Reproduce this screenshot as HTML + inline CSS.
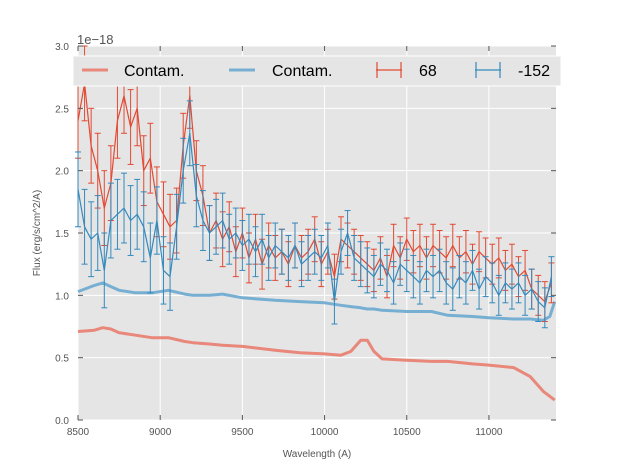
<!DOCTYPE html>
<html><head><meta charset="utf-8"><style>
body{margin:0;background:#fff;}
svg{display:block;font-family:"Liberation Sans",sans-serif;}
</style></head><body>
<svg id="chart" width="617" height="467" viewBox="0 0 617 467" xmlns="http://www.w3.org/2000/svg">
<rect x="78" y="46" width="478" height="374" fill="#e5e5e5"/>
<g id="grid"></g>
<g id="series"></g>
<g id="axes"></g>
<text x="77" y="44" font-size="13" fill="#555">1e−18</text>
<text x="317" y="457" font-size="10" fill="#555" text-anchor="middle">Wavelength (A)</text>
<text transform="translate(40,233) rotate(-90)" font-size="10" fill="#555" text-anchor="middle">Flux (erg/s/cm^2/A)</text>
<g>
<rect x="73" y="56" width="488" height="30" fill="#e5e5e5" stroke="#fff" stroke-width="1"/>
<line x1="82" y1="70" x2="108" y2="70" stroke="#e8877a" stroke-width="3"/>
<text x="124" y="76" font-size="16" fill="#000">Contam.</text>
<line x1="229" y1="70" x2="255" y2="70" stroke="#77afd3" stroke-width="3"/>
<text x="272" y="76" font-size="16" fill="#000">Contam.</text>
<g stroke="#e24a33" stroke-width="1.2"><line x1="376" y1="70" x2="402" y2="70"/><line x1="377" y1="62" x2="377" y2="78"/><line x1="401" y1="62" x2="401" y2="78"/></g>
<text x="419" y="76" font-size="16" fill="#000">68</text>
<g stroke="#348abd" stroke-width="1.2"><line x1="475" y1="70" x2="501" y2="70"/><line x1="476" y1="62" x2="476" y2="78"/><line x1="500" y1="62" x2="500" y2="78"/></g>
<text x="518" y="76" font-size="16" fill="#000">-152</text>
</g>
</svg>
<script>
const xTicks=[8500,9000,9500,10000,10500,11000];
const yTicks=[0.0,0.5,1.0,1.5,2.0,2.5,3.0];
const contamWl=[8500,8600,8650,8700,8750,8850,8950,9050,9150,9200,9300,9380,9500,9700,9850,10000,10100,10160,10220,10260,10300,10350,10500,10650,10750,10900,11000,11150,11250,11330,11370,11400];
const contamRed=[0.71,0.72,0.74,0.73,0.70,0.68,0.66,0.66,0.63,0.62,0.61,0.60,0.59,0.56,0.54,0.53,0.52,0.55,0.64,0.64,0.55,0.49,0.48,0.47,0.47,0.45,0.44,0.42,0.35,0.23,0.19,0.16];
const contamBlue=[1.03,1.08,1.10,1.07,1.04,1.02,1.02,1.04,1.01,1.00,1.00,1.01,0.98,0.96,0.95,0.94,0.92,0.91,0.90,0.89,0.89,0.88,0.87,0.87,0.84,0.83,0.82,0.81,0.81,0.80,0.83,0.95];
const wl=[];for(let w=8500;w<=11380;w+=40)wl.push(w);
const red=[2.4,2.7,2.2,2.0,1.7,1.9,2.4,2.6,2.35,2.5,2.0,2.1,1.75,1.65,1.55,1.6,2.2,2.6,2.0,1.8,1.5,1.6,1.45,1.55,1.35,1.5,1.3,1.45,1.25,1.4,1.3,1.35,1.25,1.4,1.3,1.35,1.45,1.25,1.35,1.15,1.45,1.4,1.35,1.3,1.25,1.2,1.3,1.15,1.4,1.3,1.45,1.35,1.4,1.3,1.4,1.35,1.3,1.4,1.3,1.35,1.25,1.35,1.3,1.25,1.3,1.2,1.25,1.15,1.2,1.05,1.0,0.95,1.1];
const blue=[1.85,1.55,1.45,1.5,1.2,1.6,1.65,1.7,1.6,1.65,1.55,1.3,1.6,1.2,1.15,1.55,2.0,2.3,1.8,1.6,1.5,1.55,1.6,1.45,1.5,1.4,1.45,1.35,1.45,1.3,1.4,1.35,1.3,1.4,1.25,1.3,1.35,1.3,1.4,0.95,1.35,1.5,1.3,1.25,1.2,1.15,1.25,1.2,1.1,1.25,1.2,1.15,1.1,1.2,1.15,1.2,1.1,1.05,1.15,1.1,1.2,1.05,1.15,1.1,1.0,1.1,1.05,1.1,1.0,1.05,0.95,0.9,1.15];
const redErr=[0.3,0.3,0.3,0.3,0.3,0.3,0.3,0.3,0.3,0.3,0.28,0.28,0.28,0.26,0.26,0.26,0.26,0.26,0.24,0.24,0.22,0.22,0.22,0.2,0.2,0.2,0.2,0.2,0.2,0.18,0.18,0.18,0.18,0.18,0.18,0.18,0.18,0.18,0.18,0.18,0.18,0.18,0.18,0.18,0.18,0.17,0.17,0.17,0.17,0.17,0.17,0.17,0.17,0.17,0.17,0.17,0.17,0.17,0.17,0.17,0.16,0.16,0.16,0.16,0.16,0.16,0.16,0.16,0.16,0.16,0.16,0.16,0.16];
const blueErr=[0.3,0.3,0.3,0.3,0.3,0.3,0.28,0.28,0.28,0.28,0.28,0.28,0.27,0.27,0.27,0.26,0.26,0.26,0.25,0.24,0.22,0.22,0.22,0.2,0.2,0.2,0.2,0.2,0.2,0.18,0.18,0.18,0.18,0.18,0.18,0.18,0.18,0.18,0.18,0.18,0.18,0.18,0.18,0.18,0.18,0.17,0.17,0.17,0.17,0.17,0.17,0.17,0.17,0.17,0.17,0.17,0.17,0.17,0.17,0.17,0.16,0.16,0.16,0.16,0.16,0.16,0.16,0.16,0.16,0.16,0.16,0.16,0.16];
const NS="http://www.w3.org/2000/svg";
const X0=78,X1=556,Y0=420,Y1=46;
function xs(w){return X0+(w-8500)/(11408-8500)*(X1-X0);}
function ys(v){return Y0-v/3.0*(Y0-Y1);}
function mk(t,a,p){const e=document.createElementNS(NS,t);for(const k in a)e.setAttribute(k,a[k]);p.appendChild(e);return e;}
const grid=document.getElementById('grid'),axes=document.getElementById('axes'),ser=document.getElementById('series');
xTicks.forEach(t=>{const x=xs(t);
 const g=mk('line',{x1:x,x2:x,y1:Y1,y2:Y0,stroke:'#fff','stroke-width':1},grid);
 
 
 mk('line',{x1:x,x2:x,y1:Y1,y2:Y1+5,stroke:'#555'},axes);
 mk('line',{x1:x,x2:x,y1:Y0,y2:Y0-5,stroke:'#555'},axes);
 const tx=mk('text',{x:x,y:Y0+15,'font-size':10,fill:'#555','text-anchor':'middle'},axes);tx.textContent=t;
 
 });
yTicks.forEach(t=>{const y=ys(t);
 const g=mk('line',{x1:X0,x2:X1,y1:y,y2:y,stroke:'#fff','stroke-width':1},grid);
 
 
 mk('line',{x1:X0,x2:X0+5,y1:y,y2:y,stroke:'#555'},axes);
 mk('line',{x1:X1,x2:X1-5,y1:y,y2:y,stroke:'#555'},axes);
 const tx=mk('text',{x:X0-9,y:y+4,'font-size':10,fill:'#555','text-anchor':'end'},axes);tx.textContent=t.toFixed(1);
 
 });
function line(ws,vs,col,w,name){const n=Math.min(ws.length,vs.length);let d='';for(let i=0;i<n;i++)d+=(i?'L':'M')+xs(ws[i]).toFixed(1)+','+ys(vs[i]).toFixed(1);
 const p=mk('path',{d:d,fill:'none',stroke:col,'stroke-width':w,'stroke-linejoin':'round'},ser);
 
 }
function errs(vs,es,col,name){const g=mk('g',{stroke:col,'stroke-width':1},ser);
 
 
 const n=Math.min(wl.length,vs.length,es.length);
 for(let i=0;i<n;i++){const x=xs(wl[i]),a=ys(vs[i]+es[i]),b=ys(vs[i]-es[i]);
  mk('line',{x1:x,x2:x,y1:Math.max(a,Y1),y2:b},g);
  if(a>=Y1)mk('line',{x1:x-3,x2:x+3,y1:a,y2:a},g);
  mk('line',{x1:x-3,x2:x+3,y1:b,y2:b},g);}}
line(contamWl,contamRed,'#e8877a',3,'contam-red-line');
line(contamWl,contamBlue,'#77afd3',3,'contam-blue-line');
errs(red,redErr,'#e24a33','errorbars-68');
line(wl,red,'#e24a33',1.2,'series-68-line');
errs(blue,blueErr,'#348abd','errorbars-neg152');
line(wl,blue,'#348abd',1.2,'series-neg152-line');
</script>
</body></html>
